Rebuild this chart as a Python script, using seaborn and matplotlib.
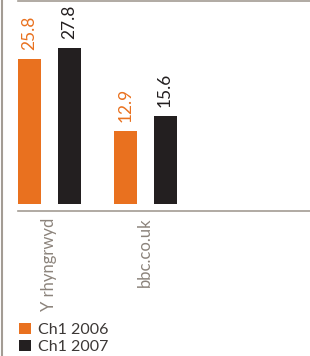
import matplotlib
matplotlib.use("Agg")
import matplotlib.pyplot as plt
import seaborn as sns
import pandas as pd
from matplotlib.lines import Line2D

categories = ["Y rhyngrwyd", "bbc.co.uk"]
series_names = ["Ch1 2006", "Ch1 2007"]
values_2006 = [25.8, 12.9]
values_2007 = [27.8, 15.6]

ORANGE = "#E9711F"
BLACK = "#231F20"
LINE = "#A39C94"
CAT_GRAY = "#8C847C"
LEG_TEXT = "#3C3836"

sns.set_style("white")
plt.rcParams["font.family"] = ["Lato", "DejaVu Sans"]

df = pd.DataFrame({
    "category": categories * 2,
    "series": [series_names[0]] * len(categories) + [series_names[1]] * len(categories),
    "value": values_2006 + values_2007,
})

fig = plt.figure(figsize=(3.10, 3.56), dpi=100)
ax = fig.add_axes([18 / 310, (356 - 211) / 356, 292 / 310, 210 / 356])

sns.barplot(data=df, x="category", y="value", hue="series",
            palette=[ORANGE, BLACK], width=0.83, gap=0.42,
            order=categories, hue_order=series_names, ax=ax,
            saturation=1, edgecolor="none", linewidth=0)

ax.set_xlim(-0.328, 2.72)
ax.set_ylim(-1.25, 36.1)

for cont, col in zip(ax.containers, [ORANGE, BLACK]):
    ax.bar_label(cont, labels=[f"{b.get_height():.1f}" for b in cont],
                 rotation=90, padding=6.5, color=col, fontsize=12.5)

ax.set_xlabel("")
ax.set_ylabel("")
ax.set_yticks([])
ax.tick_params(axis="x", length=0, pad=5, labelsize=12, labelcolor=CAT_GRAY)
for lab in ax.get_xticklabels():
    lab.set_rotation(90)
    lab.set_va("top")
    lab.set_ha("center")

for s in ["left", "right"]:
    ax.spines[s].set_visible(False)
for s in ["top", "bottom"]:
    ax.spines[s].set_visible(True)
    ax.spines[s].set_color(LINE)
    ax.spines[s].set_linewidth(1.2)

sns.move_legend(ax, "lower left", bbox_to_anchor=(24 / 310 - 0.02, 0.0),
                bbox_transform=fig.transFigure, title=None, frameon=False,
                fontsize=11.5, handlelength=0.75, handleheight=0.7,
                handletextpad=0.4, labelspacing=0.2, borderaxespad=0.0,
                borderpad=0.1, labelcolor=LEG_TEXT)

fig.add_artist(Line2D([2 / 310, 2 / 310], [0, 1], transform=fig.transFigure,
                      color=LINE, linewidth=1.5))

fig.savefig("out.png", dpi=100)
